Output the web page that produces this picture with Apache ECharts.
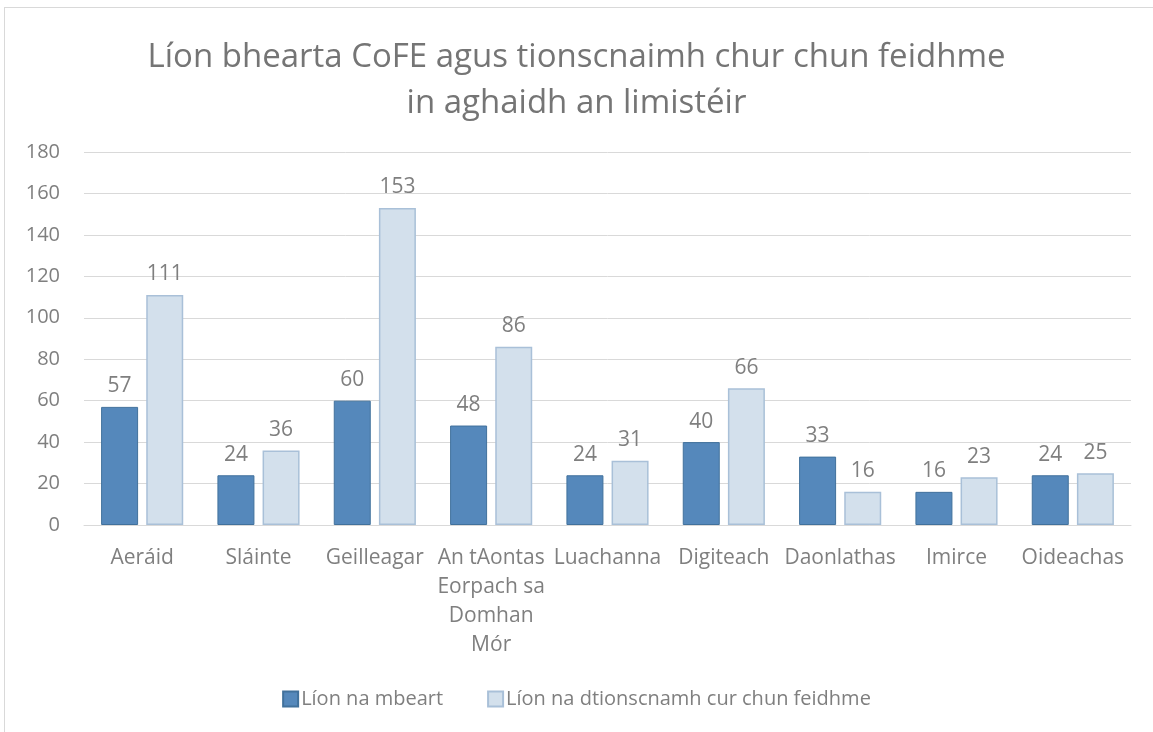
<!DOCTYPE html>
<html>
<head>
<meta charset="utf-8">
<script src="https://cdn.jsdelivr.net/npm/echarts@6/dist/echarts.min.js"></script>
<style>
  html, body { margin: 0; padding: 0; background: #fff; overflow: hidden; }
  #main { width: 1153px; height: 732px; }
  #frame { position: absolute; left: 4px; top: 7px; width: 1170px; height: 760px; border: 1px solid #d9d9d9; pointer-events: none; }
</style>
</head>
<body>
<div id="main"></div>
<div id="frame"></div>
<script>
// categories (tick labels)
const categories = ['Aeráid', 'Sláinte', 'Geilleagar', 'An tAontas\nEorpach sa\nDomhan\nMór', 'Luachanna', 'Digiteach', 'Daonlathas', 'Imirce', 'Oideachas'];
const seriesNames = ['Líon na mbeart', 'Líon na dtionscnamh cur chun feidhme'];
const measures = [57, 24, 60, 48, 24, 40, 33, 16, 24];
const initiatives = [111, 36, 153, 86, 31, 66, 16, 23, 25];

const font = '"Open Sans", "Noto Sans", sans-serif';
const textColor = '#7f7f7f';

let myChart = echarts.init(document.getElementById('main'));

const option = {
    backgroundColor: '#fff',
    animation: false,
    textStyle: { fontFamily: font },
    title: {
        text: 'Líon bhearta CoFE agus tionscnaimh chur chun feidhme\nin aghaidh an limistéir',
        left: 'center',
        top: 30,
        textStyle: {
            fontFamily: font,
            fontSize: 33,
            fontWeight: 'normal',
            color: '#757575',
            lineHeight: 46
        }
    },
    legend: {
        bottom: 18,
        left: 'center',
        itemWidth: 15,
        itemHeight: 15,
        itemGap: 44,
        icon: 'rect',
        textStyle: { fontFamily: font, fontSize: 20, color: textColor, padding: [0, 0, 0, -2] },
        data: seriesNames
    },
    grid: {
        left: 84,
        right: 22,
        top: 152,
        bottom: 207,
        containLabel: false
    },
    xAxis: {
        type: 'category',
        data: categories,
        axisLine: { show: true, lineStyle: { color: '#d9d9d9', width: 1 } },
        axisTick: { show: false },
        axisLabel: {
            fontFamily: font,
            fontSize: 21,
            color: textColor,
            lineHeight: 29,
            margin: 19,
            interval: 0
        }
    },
    yAxis: {
        type: 'value',
        min: 0,
        max: 180,
        interval: 20,
        axisLine: { show: false },
        axisTick: { show: false },
        splitLine: { lineStyle: { color: '#d9d9d9', width: 1 } },
        axisLabel: {
            fontFamily: font,
            fontSize: 20,
            color: textColor,
            margin: 24
        }
    },
    series: [
        {
            name: seriesNames[0],
            type: 'bar',
            data: measures,
            barWidth: 37,
            barGap: '22%',
            itemStyle: { color: '#5588bb', borderColor: '#41719c', borderWidth: 1 },
            label: {
                show: true,
                position: 'top',
                distance: 10,
                fontFamily: font,
                fontSize: 21,
                color: textColor
            }
        },
        {
            name: seriesNames[1],
            type: 'bar',
            data: initiatives,
            barWidth: 37,
            barGap: '22%',
            itemStyle: { color: '#d3e0ec', borderColor: '#a9c0d8', borderWidth: 1.5 },
            label: {
                show: true,
                position: 'top',
                distance: 10,
                fontFamily: font,
                fontSize: 21,
                color: textColor
            }
        }
    ]
};

myChart.setOption(option);
</script>
</body>
</html>
